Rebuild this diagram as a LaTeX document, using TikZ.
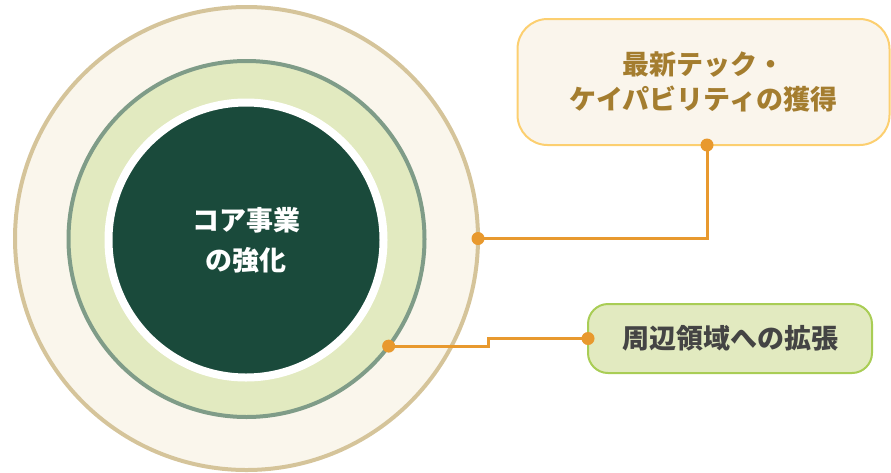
\documentclass[tikz,border=0pt]{standalone}
\usepackage{fontspec}
\usepackage{tikz}
\usetikzlibrary{positioning, calc}
\newfontfamily\jpfont{Noto Sans CJK JP}
\definecolor{outerfill}{RGB}{250, 246, 236}
\definecolor{outerborder}{RGB}{213, 196, 154}
\definecolor{ringfill}{RGB}{226, 234, 192}
\definecolor{ringborder}{RGB}{127, 156, 136}
\definecolor{coregreen}{RGB}{26, 74, 59}
\definecolor{linkorange}{RGB}{232, 153, 46}
\definecolor{techfill}{RGB}{250, 245, 236}
\definecolor{techborder}{RGB}{252, 207, 112}
\definecolor{techtext}{RGB}{164, 125, 47}
\definecolor{expandborder}{RGB}{169, 205, 85}
\definecolor{expandtext}{RGB}{68, 68, 68}

\begin{document}
\begin{tikzpicture}[
  x=1pt, y=-1pt,
  lbl/.style={font=\jpfont\bfseries\fontsize{27}{35}\selectfont, align=center},
  circ/.style={circle, inner sep=0pt, outer sep=0pt},
  callout/.style={rectangle, inner sep=0pt, outer sep=0pt, line width=2pt, lbl},
  link/.style={draw=linkorange, line width=3pt},
  dot/.style={fill=linkorange}
]
\useasboundingbox (0,0) rectangle (891,472);
\node[circ, draw=outerborder, fill=outerfill, line width=4pt, minimum size=463pt] (outer) at (246.5,238.5) {};
\node[circ, draw=ringborder, fill=ringfill, line width=4pt, minimum size=356pt] (ring) at (246.5,239) {};
\node[circ, draw=white, fill=coregreen, line width=8pt, minimum size=275pt, lbl,
      font=\jpfont\bfseries\fontsize{27}{40}\selectfont, text=white] (core) at (246,240) {コア事業\\の強化};

\node[callout, draw=techborder, fill=techfill, text=techtext, rounded corners=30pt,
      minimum width=372pt, minimum height=126pt] (tech) at (703.5,82) {最新テック・\\ケイパビリティの獲得};
\node[callout, draw=expandborder, fill=ringfill, text=expandtext, rounded corners=20pt,
      minimum width=284pt, minimum height=69pt] (expand) at (730,338.5) {周辺領域への拡張};

\coordinate (techpin) at ([xshift=3.5pt]tech.south);
\coordinate (ringpin) at (ring.-37);
\coordinate (stepa) at (488,0 |- ringpin);
\coordinate (stepb) at (stepa |- expand.west);

\draw[link] (techpin) |- (outer.east);
\draw[link] (ringpin) -- (stepa) -- (stepb) -- (expand.west);

\fill[dot] (techpin) circle (6.5pt);
\fill[dot] (outer.east) circle (6.5pt);
\fill[dot] (ringpin) circle (6.5pt);
\fill[dot] (expand.west) circle (6.5pt);
\end{tikzpicture}
\end{document}
